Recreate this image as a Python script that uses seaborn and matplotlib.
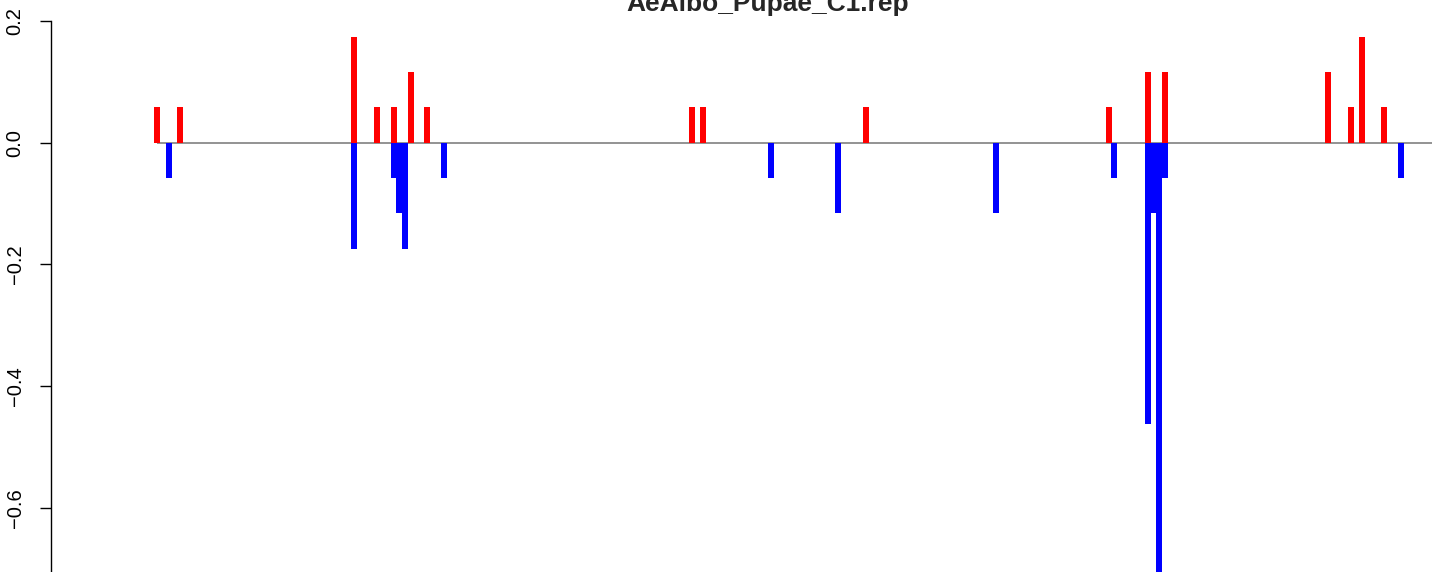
import numpy as np
import pandas as pd
import matplotlib
matplotlib.use("Agg")
import matplotlib.pyplot as plt
import seaborn as sns

# ---- data (positions in arbitrary genomic units) ----
title = "AeAlbo_Pupae_C1.rep"
pos_x = [54, 77, 251, 274, 291, 308, 324, 589, 600, 763, 1006, 1045, 1062,
         1225, 1248, 1259, 1281]
pos_y = [0.058, 0.058, 0.174, 0.058, 0.058, 0.116, 0.058, 0.058, 0.058, 0.058,
         0.058, 0.116, 0.116, 0.116, 0.058, 0.174, 0.058]
neg_x = [66, 251, 291, 296, 302, 341, 668, 735, 893, 1011, 1045, 1050, 1056,
         1062, 1298]
neg_y = [-0.058, -0.174, -0.058, -0.116, -0.174, -0.058, -0.058, -0.116, -0.116,
         -0.058, -0.462, -0.116, -0.75, -0.058, -0.058]
y_ticks = [0.2, 0.0, -0.2, -0.4, -0.6]
y_tick_labels = ["0.2", "0.0", "-0.2", "-0.4", "-0.6"]

df = pd.DataFrame({
    "pos": pos_x + neg_x,
    "val": pos_y + neg_y,
    "sign": ["pos"] * len(pos_x) + ["neg"] * len(neg_x),
})

sns.set_style("white")
plt.rcParams["font.family"] = ["Liberation Sans", "DejaVu Sans"]

W, H = 1444, 572
fig = plt.figure(figsize=(W / 100, H / 100), dpi=100)
ax = fig.add_axes([51 / W, 0, (W - 51) / W, 1])

x_lo, x_hi = -52, 1341
bar_px = 6.0
units_per_px = (x_hi - x_lo) / (W - 51)
min_gap = np.diff(np.unique(df["pos"])).min()
bw = bar_px * units_per_px / min_gap

sns.barplot(data=df, x="pos", y="val", hue="sign",
            palette={"pos": "#FF0000", "neg": "#0000FF"}, saturation=1,
            native_scale=True, dodge=False, width=bw, errorbar=None,
            linewidth=0, edgecolor="none", legend=False, ax=ax, zorder=3)

# baseline spanning the data range
ax.hlines(0, min(df["pos"]), 1329, color="#808080", linewidth=1.2, zorder=2)

ax.set_xticks([])
ax.set_xlabel("")
ax.set_ylabel("")
ax.set_yticks(y_ticks)
ax.set_yticklabels([t.replace("-", "\u2212") for t in y_tick_labels],
                   rotation=90, va="center", fontsize=14.5)
ax.set_xlim(x_lo, x_hi)
ax.set_ylim(-0.7055, 0.2346)
ax.tick_params(axis="y", direction="out", length=8, width=1.0, pad=11,
               colors="black", left=True)
for s in ["top", "right", "bottom"]:
    ax.spines[s].set_visible(False)
ax.spines["left"].set_bounds(-0.8, 0.2)
ax.spines["left"].set_linewidth(1.0)
ax.spines["left"].set_color("black")
ax.patch.set_alpha(0)

fig.text(768 / W, 1 - 11 / H, title, ha="center", va="baseline",
         fontsize=19, fontweight="bold")

fig.savefig("out.png", dpi=100, facecolor="white")
